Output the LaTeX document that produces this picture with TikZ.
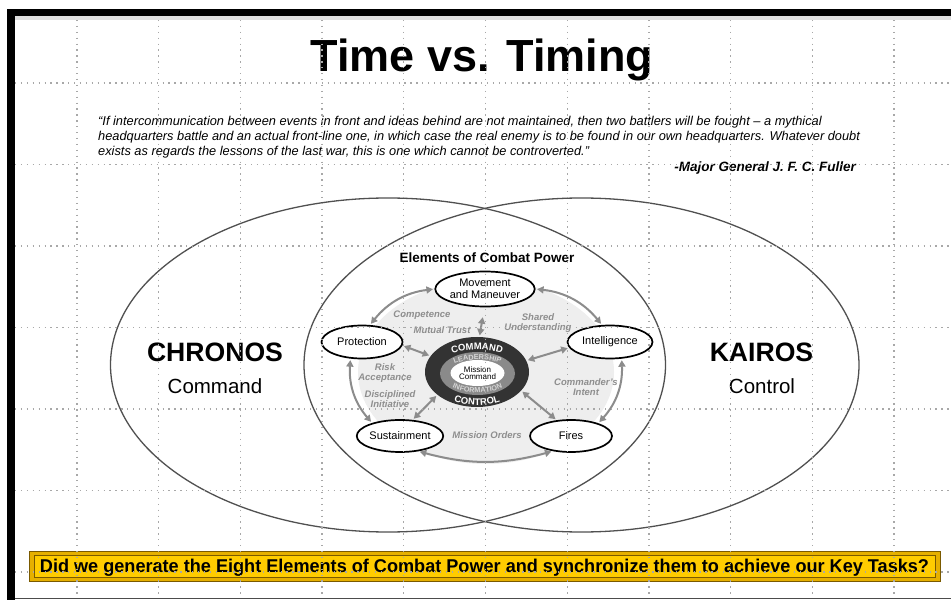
\documentclass[tikz,border=0pt]{standalone}
\usepackage{fontspec}
\setmainfont{Liberation Sans}
\usetikzlibrary{shapes.geometric,arrows.meta,decorations.text}

\definecolor{ringgray}{HTML}{8C8C8C}
\definecolor{labelgray}{HTML}{8E8E8E}
\definecolor{fillgray}{HTML}{EEEEEE}
\definecolor{coredark}{HTML}{333333}
\definecolor{ringmid}{HTML}{8A8A8A}
\definecolor{ringtext}{HTML}{D6D6D6}
\definecolor{bannerface}{HTML}{FFCC00}
\definecolor{bannerrim}{HTML}{E6B000}
\definecolor{banneredge}{HTML}{7A5A00}
\definecolor{gridgray}{HTML}{A8A8A8}
\definecolor{ovalgray}{HTML}{505050}

\begin{document}
\begin{tikzpicture}[x=1pt,y=-1pt,
  elem/.style={ellipse, draw=black, line width=1.7pt, fill=white, inner sep=0pt,
    align=center, font=\fontsize{11}{11.5}\selectfont},
  ring/.style={draw=ringgray, line width=2pt,
    {Triangle[length=6.5pt,width=7pt]}-{Triangle[length=6.5pt,width=7pt]},
    shorten <=1.5pt, shorten >=1.5pt},
  lbl/.style={text=labelgray, font=\fontsize{9.5}{10}\selectfont\bfseries\itshape,
    align=center, inner sep=0pt},
  quoteline/.style={anchor=base west, inner sep=0pt, font=\fontsize{12.8}{13}\selectfont\itshape},
  bigoval/.style={draw=ovalgray, line width=1.3pt},
  gridline/.style={draw=gridgray, line width=1.3pt, dash pattern=on 1.3pt off 4.6pt},
  arctext/.style={decorate, decoration={text along path, text align=center, #1}},
]
\useasboundingbox (0,0) rectangle (951,601);
\fill[white] (0,0) rectangle (951,601);

% title and quotation
\node[anchor=base, inner sep=0pt, font=\fontsize{45}{45}\selectfont\bfseries] (title) at (482,72) {Time vs. Timing};
\node[quoteline] (q1) at (98,126) {“If intercommunication between events in front and ideas behind are not maintained, then two battlers will be fought – a mythical};
\node[quoteline] (q2) at (98,141) {headquarters battle and an actual front-line one, in which case the real enemy is to be found in our own headquarters. Whatever doubt};
\node[quoteline] (q3) at (98,156) {exists as regards the lessons of the last war, this is one which cannot be controverted.”};
\node[anchor=base east, inner sep=0pt, font=\fontsize{13.5}{14}\selectfont\bfseries\itshape] (author) at (856,172) {-Major General J. F. C. Fuller};

% the two overlapping ovals
\draw[bigoval] (388,365) ellipse [x radius=277.5, y radius=167];
\draw[bigoval] (581.5,365) ellipse [x radius=277.5, y radius=167];

\node[anchor=base, inner sep=0pt, font=\fontsize{26.6}{27}\selectfont\bfseries] (chronos) at (215,362) {CHRONOS};
\node[anchor=base, inner sep=0pt, font=\fontsize{20.5}{21}\selectfont] (command) at (215,394) {Command};
\node[anchor=base, inner sep=0pt, font=\fontsize{26.6}{27}\selectfont\bfseries] (kairos) at (761.5,362) {KAIROS};
\node[anchor=base, inner sep=0pt, font=\fontsize{20.5}{21}\selectfont] (control) at (762,394) {Control};

% elements of combat power
\fill[fillgray] (486,372) ellipse [x radius=128, y radius=92];
\node[anchor=base, inner sep=0pt, font=\fontsize{13.5}{14}\selectfont\bfseries] (ecp) at (487,263) {Elements of Combat Power};

\node[ellipse, fill=coredark, minimum width=104pt, minimum height=70pt, inner sep=0pt] (core) at (477,372) {};
\fill[ringmid] (477.5,373.5) ellipse [x radius=37.5, y radius=21.5];
\node[ellipse, fill=white, minimum width=54pt, minimum height=26pt, inner sep=0pt, align=center,
  font=\fontsize{8}{7.5}\selectfont] (mc) at (477.5,373) {Mission\\Command};

\path[arctext={text color=white, text={|\fontsize{9.5}{9.5}\selectfont\bfseries|COMMAND}}]
  (477,372) ++(198:46 and 22.5) arc[start angle=198, end angle=342, x radius=46, y radius=22.5];
\path[arctext={text color=white, text={|\fontsize{9.5}{9.5}\selectfont\bfseries|CONTROL}}]
  (477,372) ++(160:50 and 33.2) arc[start angle=160, end angle=20, x radius=50, y radius=33.2];
\path[arctext={text color=ringtext, text={|\fontsize{7.3}{7.3}\selectfont\bfseries|LEADERSHIP}}]
  (477.5,373.5) ++(192:33 and 13.8) arc[start angle=192, end angle=348, x radius=33, y radius=13.8];
\path[arctext={text color=ringtext, text={|\fontsize{7.3}{7.3}\selectfont\bfseries|INFORMATION}}]
  (477.5,373.5) ++(165:38 and 19.3) arc[start angle=165, end angle=15, x radius=38, y radius=19.3];

\node[elem, minimum width=91pt, minimum height=35pt] (mm) at (485,289) {Movement\\and Maneuver};
\node[elem, minimum width=81pt, minimum height=33pt] (prot) at (362,342) {Protection};
\node[elem, minimum width=85pt, minimum height=33pt] (intel) at (610,342) {Intelligence};
\node[elem, minimum width=80pt, minimum height=32pt] (sus) at (400,436) {Sustainment};
\node[elem, minimum width=82pt, minimum height=32pt] (fires) at (571,436) {Fires};

% ring of mutual support
\draw[ring] (mm.west) to[bend right=22] (prot.65);
\draw[ring] (prot.235) to[bend right=22] (sus.155);
\draw[ring] (sus.-40) to[bend right=15] (fires.220);
\draw[ring] (fires.25) to[bend right=22] (intel.-55);
\draw[ring] (intel.115) to[bend right=22] (mm.east);

% links to the core
\draw[ring, shorten <=10pt] (mm.268) -- (core.86);
\draw[ring] (prot.-5) -- (core.161);
\draw[ring] (intel.188) -- (core.13);
\draw[ring] (sus.52) -- (core.210);
\draw[ring] (fires.132) -- (core.337);

\node[lbl] (competence) at (422,315) {Competence};
\node[lbl] (trust) at (442,330) {Mutual Trust};
\node[lbl] (shared) at (538,323.5) {Shared\\Understanding};
\node[lbl] (risk) at (385,373) {Risk\\Acceptance};
\node[lbl] (initiative) at (390,399.5) {Disciplined\\Initiative};
\node[lbl] (intent) at (586,387.5) {Commander's\\Intent};
\node[lbl] (orders) at (487,435) {Mission Orders};

% question banner
\fill[bannerrim, draw=banneredge, line width=0.8pt] (29,551) rectangle (940,581);
\fill[bannerface, draw=banneredge, line width=0.8pt] (34,555) rectangle (935,577);
\node[anchor=base, inner sep=0pt] (question) at (484.5,572.7)
  {\resizebox{889pt}{13.4pt}{\bfseries Did we generate the Eight Elements of Combat Power and synchronize them to achieve our Key Tasks?}};

% dotted layout grid
\foreach \gy in {83,164.5,246,327.5,409,490.5,572}
  \draw[gridline] (15,\gy) -- (951,\gy);
\foreach \k in {0,...,10}
  \draw[gridline] (77+81.7*\k,20) -- (77+81.7*\k,598);

% frame
\fill[black] (7,9) rectangle (951,16);
\fill[black] (7,9) rectangle (15,600);
\fill[gray!25] (15,16) rectangle (951,20);
\draw[gray!60!black, line width=0.8pt] (15,598.5) -- (951,598.5);
\end{tikzpicture}
\end{document}
